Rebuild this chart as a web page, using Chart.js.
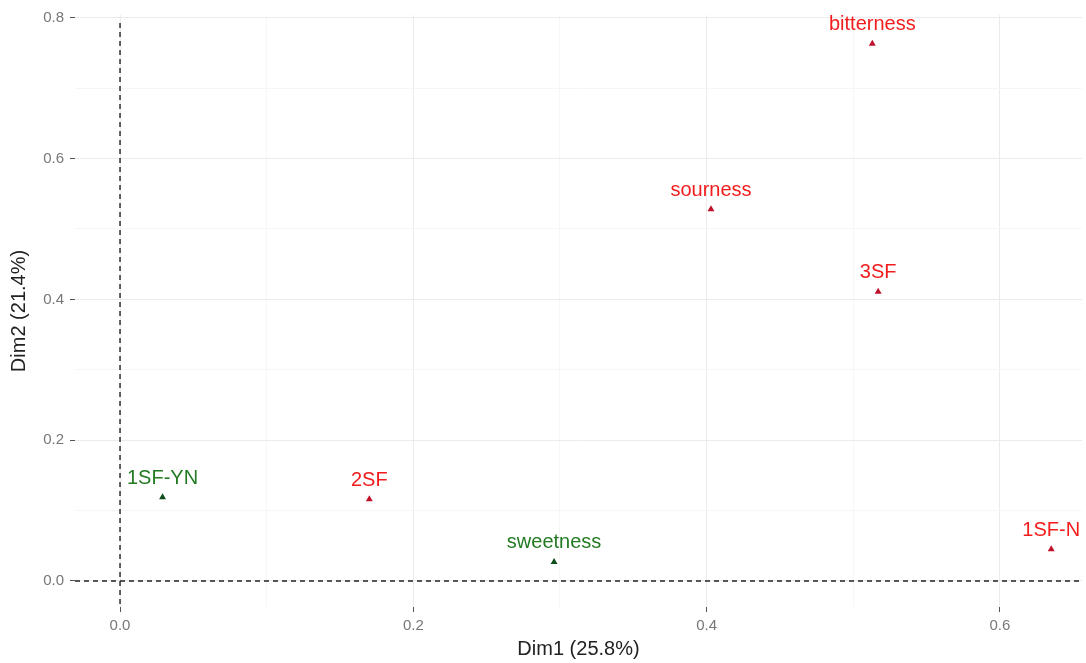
<!DOCTYPE html>
<html lang="en">
<head>
  <meta charset="UTF-8" />
  <title>Dim1 vs Dim2</title>
  <script src="https://cdn.jsdelivr.net/npm/chart.js"></script>
  <style>
    html, body { margin: 0; padding: 0; background: white; }
    #wrap { width: 1086px; height: 663px; }
  </style>
</head>
<body>
  <div id="wrap"><canvas id="chart"></canvas></div>
  <script>
    // variables / samples and their coordinates on the first two dims
    const redNames = ['bitterness', 'sourness', '3SF', '2SF', '1SF-N'];
    const redX = [0.513, 0.403, 0.517, 0.170, 0.635];
    const redY = [0.763, 0.528, 0.411, 0.116, 0.045];

    const greenNames = ['1SF-YN', 'sweetness'];
    const greenX = [0.029, 0.296];
    const greenY = [0.119, 0.027];

    const xTitle = 'Dim1 (25.8%)';
    const yTitle = 'Dim2 (21.4%)';
    const majorTicks = [0, 0.2, 0.4, 0.6, 0.8];

    const FONT = "'Liberation Sans', Arial, sans-serif";
    const isMajor = v => majorTicks.some(m => Math.abs(m - v) < 1e-6);

    const toPts = (xs, ys) => xs.map((x, i) => ({ x: x, y: ys[i] }));

    // point labels drawn above each marker
    const labelPlugin = {
      id: 'labels',
      afterDatasetsDraw(chart) {
        const ctx = chart.ctx;
        ctx.save();
        ctx.font = '20px ' + FONT;
        ctx.textAlign = 'center';
        ctx.textBaseline = 'middle';
        chart.data.datasets.forEach((ds, di) => {
          const meta = chart.getDatasetMeta(di);
          meta.data.forEach((el, i) => {
            ctx.fillStyle = ds.labelColor;
            ctx.fillText(ds.names[i], el.x, el.y - 19);
          });
        });
        ctx.restore();
      }
    };

    // dashed reference lines through the origin
    const originPlugin = {
      id: 'origin',
      beforeDatasetsDraw(chart) {
        const { ctx, chartArea, scales } = chart;
        const x0 = scales.x.getPixelForValue(0);
        const y0 = scales.y.getPixelForValue(0);
        ctx.save();
        ctx.strokeStyle = '#222';
        ctx.lineWidth = 1.4;
        ctx.setLineDash([5, 4]);
        ctx.beginPath();
        ctx.moveTo(x0, chartArea.top + 8);
        ctx.lineTo(x0, chartArea.bottom);
        ctx.moveTo(chartArea.left, y0);
        ctx.lineTo(chartArea.right, y0);
        ctx.stroke();
        ctx.restore();
      }
    };

    const gridOpts = {
      color: c => isMajor(c.tick.value) ? '#ebebeb' : '#f6f6f6',
      tickColor: c => isMajor(c.tick.value) ? '#555' : 'rgba(0,0,0,0)',
      tickLength: 5,
      lineWidth: 1
    };

    new Chart(document.getElementById('chart'), {
      type: 'scatter',
      data: {
        datasets: [
          {
            names: redNames,
            labelColor: '#f21c1c',
            data: toPts(redX, redY),
            pointStyle: 'triangle',
            pointRadius: 4,
            backgroundColor: '#c0102a',
            borderColor: '#c0102a',
            borderWidth: 0
          },
          {
            names: greenNames,
            labelColor: '#237a23',
            data: toPts(greenX, greenY),
            pointStyle: 'triangle',
            pointRadius: 4,
            backgroundColor: '#0d4d1a',
            borderColor: '#0d4d1a',
            borderWidth: 0
          }
        ]
      },
      options: {
        responsive: true,
        maintainAspectRatio: false,
        animation: false,
        layout: { padding: { top: 4, right: 0, left: 0, bottom: 0 } },
        plugins: {
          legend: { display: false },
          tooltip: { enabled: false }
        },
        scales: {
          x: {
            type: 'linear',
            min: -0.0307,
            max: 0.656,
            border: { display: false },
            grid: gridOpts,
            ticks: {
              stepSize: 0.1,
              includeBounds: false,
              autoSkip: false,
              maxRotation: 0,
              padding: 5,
              color: '#777',
              font: { family: FONT, size: 15 },
              callback: v => isMajor(v) ? v.toFixed(1) : ''
            },
            title: {
              display: true,
              text: xTitle,
              color: '#222',
              font: { family: FONT, size: 20 },
              padding: { top: 0, bottom: 2 }
            },
            afterFit: s => { s.height = 56; }
          },
          y: {
            type: 'linear',
            min: -0.037,
            max: 0.804,
            border: { display: false },
            grid: gridOpts,
            ticks: {
              stepSize: 0.1,
              includeBounds: false,
              autoSkip: false,
              padding: 6,
              color: '#777',
              font: { family: FONT, size: 15 },
              callback: v => isMajor(v) ? v.toFixed(1) : ''
            },
            title: {
              display: true,
              text: yTitle,
              color: '#222',
              font: { family: FONT, size: 20 },
              padding: { top: 7, bottom: 0 }
            },
            afterFit: s => { s.width = 75; }
          }
        }
      },
      plugins: [originPlugin, labelPlugin]
    });
  </script>
</body>
</html>
